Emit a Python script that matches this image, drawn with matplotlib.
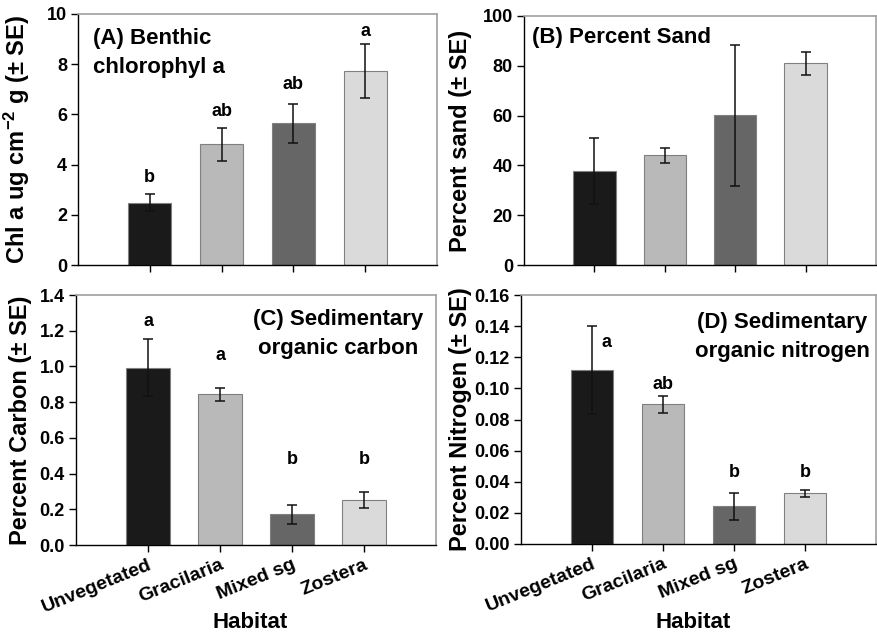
import matplotlib
matplotlib.use("Agg")
import matplotlib.pyplot as plt
import numpy as np

plt.rcParams['font.family'] = ['Liberation Sans', 'DejaVu Sans']
plt.rcParams['font.weight'] = 'bold'
plt.rcParams['mathtext.fontset'] = 'custom'
plt.rcParams['mathtext.rm'] = 'Liberation Sans:bold'
plt.rcParams['mathtext.bf'] = 'Liberation Sans:bold'
plt.rcParams['mathtext.default'] = 'bf'

habitats = ["Unvegetated", "Gracilaria", "Mixed sg", "Zostera"]
bar_colors = ["#1a1a1a", "#b9b9b9", "#666666", "#dadada"]

# (A) benthic chlorophyll a
chl_mean = [2.48, 4.81, 5.64, 7.73]
chl_se = [0.33, 0.66, 0.78, 1.08]
chl_letters = ["b", "ab", "ab", "a"]
chl_letter_y = [3.5, 6.1, 7.2, 9.3]

# (B) percent sand
sand_mean = [37.6, 44.0, 60.1, 81.0]
sand_se = [13.3, 2.9, 28.4, 4.5]

# (C) percent carbon
carb_mean = [0.993, 0.845, 0.172, 0.252]
carb_se = [0.158, 0.036, 0.053, 0.047]
carb_letters = ["a", "a", "b", "b"]
carb_letter_y = [1.25, 1.06, 0.476, 0.476]

# (D) percent nitrogen
nit_mean = [0.1118, 0.0897, 0.0242, 0.0326]
nit_se = [0.0285, 0.0056, 0.0087, 0.0021]
nit_letters = ["a", "ab", "b", "b"]
nit_letter_y = [0.1296, 0.1028, 0.0458, 0.0458]

W, H = 877, 632
fig = plt.figure(figsize=(W / 100, H / 100), dpi=100)

def px_axes(l, t, r, b):
    return fig.add_axes([l / W, 1 - b / H, (r - l) / W, (b - t) / H])

x = np.arange(1, 5)

def draw_panel(ax, mean, se, ylim, yticks, fmt, ylabel, show_x):
    ax.bar(x, mean, width=0.6, color=bar_colors, edgecolor="#808080", linewidth=0.8, zorder=2)
    ax.errorbar(x, mean, yerr=se, fmt="none", ecolor="#111111", elinewidth=1.1,
                capsize=3.6, capthick=1.1, zorder=3)
    ax.set_xlim(0, 5)
    ax.set_ylim(*ylim)
    ax.set_yticks(yticks)
    ax.set_yticklabels([fmt.format(v) for v in yticks], fontsize=13, fontweight="bold")
    ax.set_xticks(x)
    if show_x:
        ax.set_xticklabels(habitats, fontsize=14, fontweight="bold", rotation=22,
                           ha="right", rotation_mode="anchor")
        ax.set_xlabel("Habitat", fontsize=16, fontweight="bold")
    else:
        ax.set_xticklabels([])
    ax.tick_params(direction="out", length=5, width=1, pad=3)
    ax.set_ylabel(ylabel, fontsize=17, fontweight="bold")
    for s in ["left", "bottom"]:
        ax.spines[s].set_color("black")
        ax.spines[s].set_linewidth(1)
    for s in ["top", "right"]:
        ax.spines[s].set_color("#a0a0a0")
        ax.spines[s].set_linewidth(1.2)

axA = px_axes(78, 14, 437, 265)
draw_panel(axA, chl_mean, chl_se, (0, 10), [0, 2, 4, 6, 8, 10], "{:.0f}",
           "Chl a ug cm$^{-2}$ g (± SE)", False)
for xi, lab, yy in zip(x, chl_letters, chl_letter_y):
    axA.text(xi, yy, lab, ha="center", va="center", fontsize=13, fontweight="bold")
axA.text(0.042, 0.944, "(A) Benthic\nchlorophyl a", transform=axA.transAxes, ha="left",
         va="top", fontsize=16, fontweight="bold", linespacing=1.5)

axB = px_axes(524, 16, 876, 265)
draw_panel(axB, sand_mean, sand_se, (0, 100), [0, 20, 40, 60, 80, 100], "{:.0f}",
           "Percent sand (± SE)", False)
axB.text(0.023, 0.956, "(B) Percent Sand", transform=axB.transAxes, ha="left",
         va="top", fontsize=16, fontweight="bold")

axC = px_axes(76, 295, 436, 545)
draw_panel(axC, carb_mean, carb_se, (0, 1.4), [0, 0.2, 0.4, 0.6, 0.8, 1.0, 1.2, 1.4], "{:.1f}",
           "Percent Carbon (± SE)", True)
for xi, lab, yy in zip(x, carb_letters, carb_letter_y):
    axC.text(xi, yy, lab, ha="center", va="center", fontsize=13, fontweight="bold")
axC.text(0.964, 0.944, "(C) Sedimentary\norganic carbon", transform=axC.transAxes, ha="right",
         va="top", fontsize=16, fontweight="bold", linespacing=1.5, multialignment="center")

axD = px_axes(521, 295, 876, 544)
draw_panel(axD, nit_mean, nit_se, (0, 0.16), [0, 0.02, 0.04, 0.06, 0.08, 0.10, 0.12, 0.14, 0.16],
           "{:.2f}", "Percent Nitrogen (± SE)", True)
offs = [0.2, 0, 0, 0]
for xi, lab, yy, o in zip(x, nit_letters, nit_letter_y, offs):
    axD.text(xi + o, yy, lab, ha="center", va="center", fontsize=13, fontweight="bold")
axD.text(0.983, 0.932, "(D) Sedimentary\norganic nitrogen", transform=axD.transAxes, ha="right",
         va="top", fontsize=16, fontweight="bold", linespacing=1.5, multialignment="center")

# label placement (pixel positions)
for ax, xp in [(axA, 32), (axC, 32), (axB, 472), (axD, 472)]:
    pos = ax.get_position()
    ax.yaxis.set_label_coords((xp - pos.x0 * W) / (pos.width * W), 0.5)
for ax in [axC, axD]:
    pos = ax.get_position()
    ax.xaxis.set_label_coords(0.485, (H - 612 - pos.y0 * H) / (pos.height * H))

fig.savefig("out.png", dpi=100)
